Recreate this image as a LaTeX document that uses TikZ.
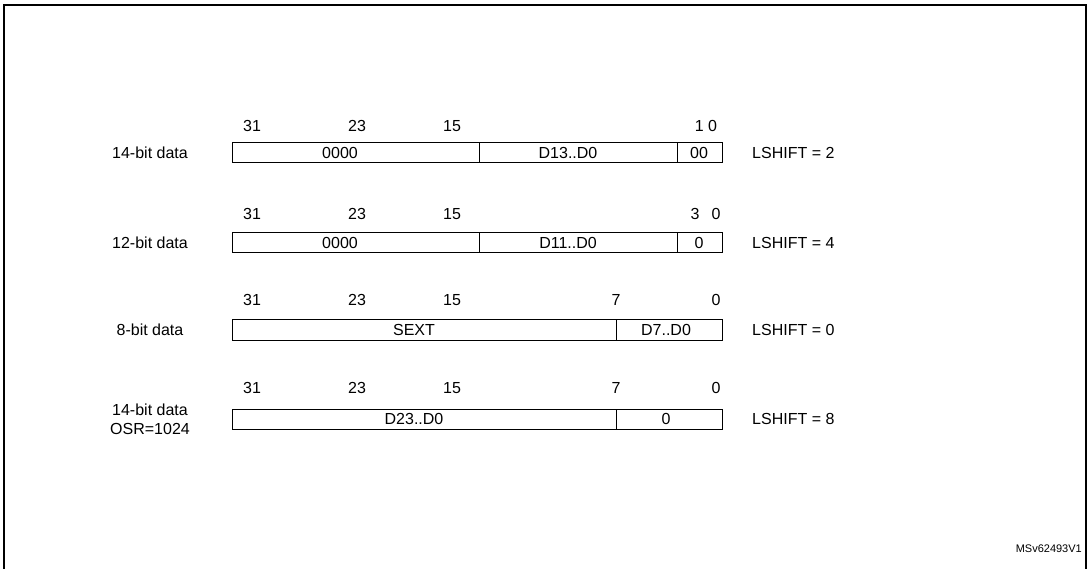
\documentclass[tikz,border=0pt]{standalone}
\usepackage{fontspec}
\setmainfont{Liberation Sans}
\begin{document}
\begin{tikzpicture}[x=1pt,y=-1pt,
  field/.style={draw,line width=1pt},
  txt/.style={font=\fontsize{16}{19}\selectfont,inner sep=0pt}]
\useasboundingbox (0,0) rectangle (1089,569);
\draw[line width=1.5pt] (4,569) |- (1086,5) -- (1086,569);
% row 1
\foreach \b/\x in {31/252,23/357,15/452,1 0/706}
  \node[txt] at (\x,126) {\b};
\node[txt] (l1) at (150,153) {14-bit data};
\draw[field] (232,143) rectangle (479,163) (479,143) rectangle (677,163) (677,143) rectangle (722,163);
\node[txt] (f1a) at (340,153) {0000};
\node[txt] (f1b) at (568,153) {D13..D0};
\node[txt] (f1c) at (699,153) {00};
\node[txt,anchor=west] (s1) at (752,153) {LSHIFT = 2};
% row 2
\foreach \b/\x in {31/252,23/357,15/452,3/695,0/716}
  \node[txt] at (\x,214) {\b};
\node[txt] (l2) at (150,243) {12-bit data};
\draw[field] (232,233) rectangle (479,253) (479,233) rectangle (677,253) (677,233) rectangle (722,253);
\node[txt] (f2a) at (340,243) {0000};
\node[txt] (f2b) at (568,243) {D11..D0};
\node[txt] (f2c) at (699,243) {0};
\node[txt,anchor=west] (s2) at (752,243) {LSHIFT = 4};
% row 3
\foreach \b/\x in {31/252,23/357,15/452,7/616,0/716}
  \node[txt] at (\x,300) {\b};
\node[txt] (l3) at (150,330) {8-bit data};
\draw[field] (232,319) rectangle (616,340) (616,319) rectangle (722,340);
\node[txt] (f3a) at (414,330) {SEXT};
\node[txt] (f3b) at (666,330) {D7..D0};
\node[txt,anchor=west] (s3) at (752,330) {LSHIFT = 0};
% row 4
\foreach \b/\x in {31/252,23/357,15/452,7/616,0/716}
  \node[txt] at (\x,388) {\b};
\node[txt,align=center] (l4) at (150,419) {14-bit data\\OSR=1024};
\draw[field] (232,409) rectangle (616,429) (616,409) rectangle (722,429);
\node[txt] (f4a) at (414,419) {D23..D0};
\node[txt] (f4b) at (666,419) {0};
\node[txt,anchor=west] (s4) at (752,419) {LSHIFT = 8};
\node[font=\fontsize{11}{13}\selectfont,anchor=east,inner sep=0pt] (tag) at (1082,549) {MSv62493V1};
\end{tikzpicture}
\end{document}
